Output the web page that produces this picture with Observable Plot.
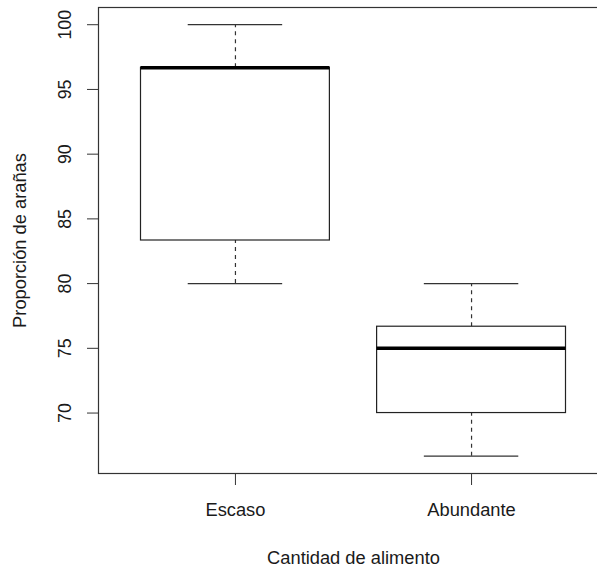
<!DOCTYPE html>
<html>
<head>
<meta charset="utf-8">
<script src="https://cdn.jsdelivr.net/npm/d3@7"></script>
<script src="https://cdn.jsdelivr.net/npm/@observablehq/plot@0.6"></script>
<style>
  html, body { margin: 0; padding: 0; background: white; overflow: hidden; }
</style>
</head>
<body>
<div id="chart"></div>
<script>
const categories = ["Escaso", "Abundante"];
const mins = [80, 66.67];
const q1s = [83.33, 70];
const medians = [96.67, 75];
const q3s = [96.67, 76.67];
const maxs = [100, 80];
const yTicks = [70, 75, 80, 85, 90, 95, 100];
const xTitle = "Cantidad de alimento";
const yTitle = "Proporción de arañas";

const data = categories.map((c, i) => ({
  cat: c, pos: i + 1, min: mins[i], q1: q1s[i], median: medians[i], q3: q3s[i], max: maxs[i]
}));

const font = "'Liberation Sans', Arial, sans-serif";
const fs = 18.3;
const txt = "#1a1a1a";

const chart = Plot.plot({
  width: 597,
  height: 569,
  marginLeft: 98,
  marginRight: -11,
  marginTop: 7,
  marginBottom: 96,
  style: { fontFamily: font, background: "white", overflow: "hidden" },
  x: { type: "linear", domain: [0.42, 2.58], axis: null },
  y: { domain: [65.33, 101.33], axis: null },
  marks: [
    Plot.axisY({ ticks: yTicks, tickSize: 11, tickFormat: () => "", label: null, stroke: "#333" }),
    Plot.axisX({ ticks: data.map(d => d.pos), tickSize: 12, tickFormat: () => "", label: null, stroke: "#333" }),
    Plot.text(yTicks, { y: d => d, frameAnchor: "left", dx: -33, rotate: -90, textAnchor: "middle", lineAnchor: "middle", fontSize: 17.8, fill: txt }),
    Plot.text(data, { x: "pos", text: "cat", frameAnchor: "bottom", dy: 37, textAnchor: "middle", lineAnchor: "middle", fontSize: fs, fill: txt }),
    Plot.text([xTitle], { frameAnchor: "bottom", dy: 85, textAnchor: "middle", lineAnchor: "middle", fontSize: fs, fill: txt }),
    Plot.text([yTitle], { frameAnchor: "left", dx: -78, rotate: -90, textAnchor: "middle", lineAnchor: "middle", fontSize: fs, fill: txt }),
    Plot.ruleX(data, { x: "pos", y1: "q3", y2: "max", stroke: "#333", strokeWidth: 1.2, strokeDasharray: "4,4" }),
    Plot.ruleX(data, { x: "pos", y1: "min", y2: "q1", stroke: "#333", strokeWidth: 1.2, strokeDasharray: "4,4" }),
    Plot.ruleY(data, { y: "max", x1: d => d.pos - 0.2, x2: d => d.pos + 0.2, stroke: "#333", strokeWidth: 1.2 }),
    Plot.ruleY(data, { y: "min", x1: d => d.pos - 0.2, x2: d => d.pos + 0.2, stroke: "#333", strokeWidth: 1.2 }),
    Plot.rect(data, { x1: d => d.pos - 0.4, x2: d => d.pos + 0.4, y1: "q1", y2: "q3", fill: "white", stroke: "#222", strokeWidth: 1.2 }),
    Plot.ruleY(data, { y: "median", x1: d => d.pos - 0.4, x2: d => d.pos + 0.4, stroke: "black", strokeWidth: 3.5 }),
    Plot.frame({ stroke: "#333", strokeWidth: 1.2 })
  ]
});
document.getElementById("chart").appendChild(chart);
</script>
</body>
</html>
